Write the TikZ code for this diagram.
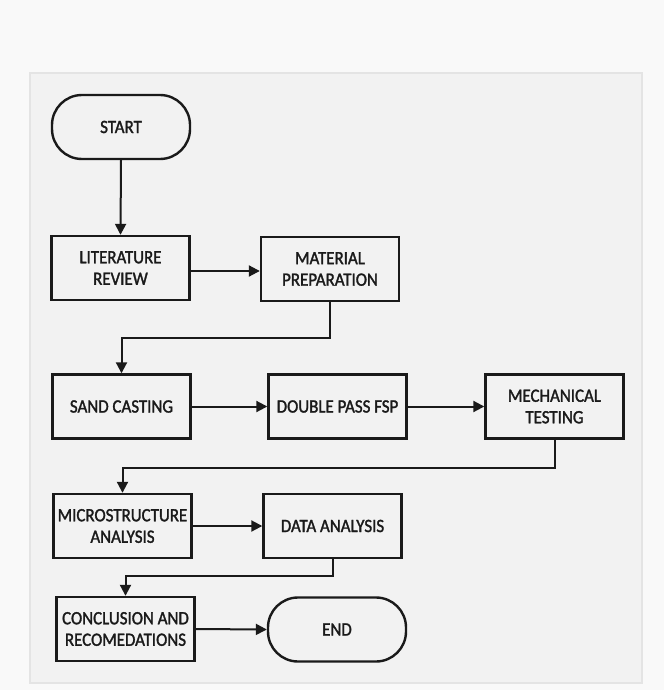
\documentclass[tikz,border=0pt]{standalone}
\usepackage{fontspec}
\setmainfont{Carlito}[FakeStretch=0.9,FakeBold=1.6]
\usetikzlibrary{arrows.meta}
\definecolor{outerbg}{HTML}{F9F9F9}
\definecolor{panelbg}{HTML}{F2F2F2}
\definecolor{panelrule}{HTML}{E4E4E4}
\definecolor{ink}{HTML}{1A1A1A}
\tikzset{
  stepbox/.style={draw=ink, line width=2.4pt, fill=panelbg, minimum width=138pt, minimum height=64pt,
    inner sep=0pt, align=center, text=ink, font=\fontsize{18.8}{21.5}\selectfont},
  termbox/.style={stepbox, rounded corners=30pt},
  arr/.style={draw=ink, line width=2pt, -{Triangle[length=11pt,width=11pt]}},
}
\begin{document}
\begin{tikzpicture}[x=1pt,y=-1pt]
\useasboundingbox (0,0) rectangle (664,690);
\fill[outerbg] (0,0) rectangle (664,690);
\draw[panelrule, fill=panelbg, line width=1.5pt] (30,73) rectangle (642,683);

\node[termbox] (start) at (121,127) {START};
\node[stepbox] (lit) at (120.5,268) {LITERATURE\\REVIEW};
\node[stepbox] (mat) at (330,269) {MATERIAL\\PREPARATION};
\node[stepbox] (sand) at (121.5,406.5) {SAND CASTING};
\node[stepbox] (fsp) at (337.5,406.5) {DOUBLE PASS FSP};
\node[stepbox] (mech) at (554.5,406.5) {MECHANICAL\\TESTING};
\node[stepbox] (micro) at (122.5,526) {MICROSTRUCTURE\\ANALYSIS};
\node[stepbox] (data) at (332.5,526) {DATA ANALYSIS};
\node[stepbox] (concl) at (125.5,629) {CONCLUSION AND\\RECOMEDATIONS};
\node[termbox] (end) at (337,629.5) {END};

\draw[arr] (start.south) -- (lit.north);
\draw[arr] ([yshift=-3pt]lit.east) -- ([yshift=-3pt]lit.east -| mat.west);
\draw[arr] (mat.south) -- ++(0,36) -| (sand.north);
\draw[arr] (sand.east) -- (fsp.west);
\draw[arr] (fsp.east) -- (mech.west);
\draw[arr] (mech.south) -- ++(0,28) -| (micro.north);
\draw[arr] (micro.east) -- (data.west);
\draw[arr] (data.south) -- ++(0,17) -| (concl.north);
\draw[arr] (concl.east) -- (end.west);
\end{tikzpicture}
\end{document}
